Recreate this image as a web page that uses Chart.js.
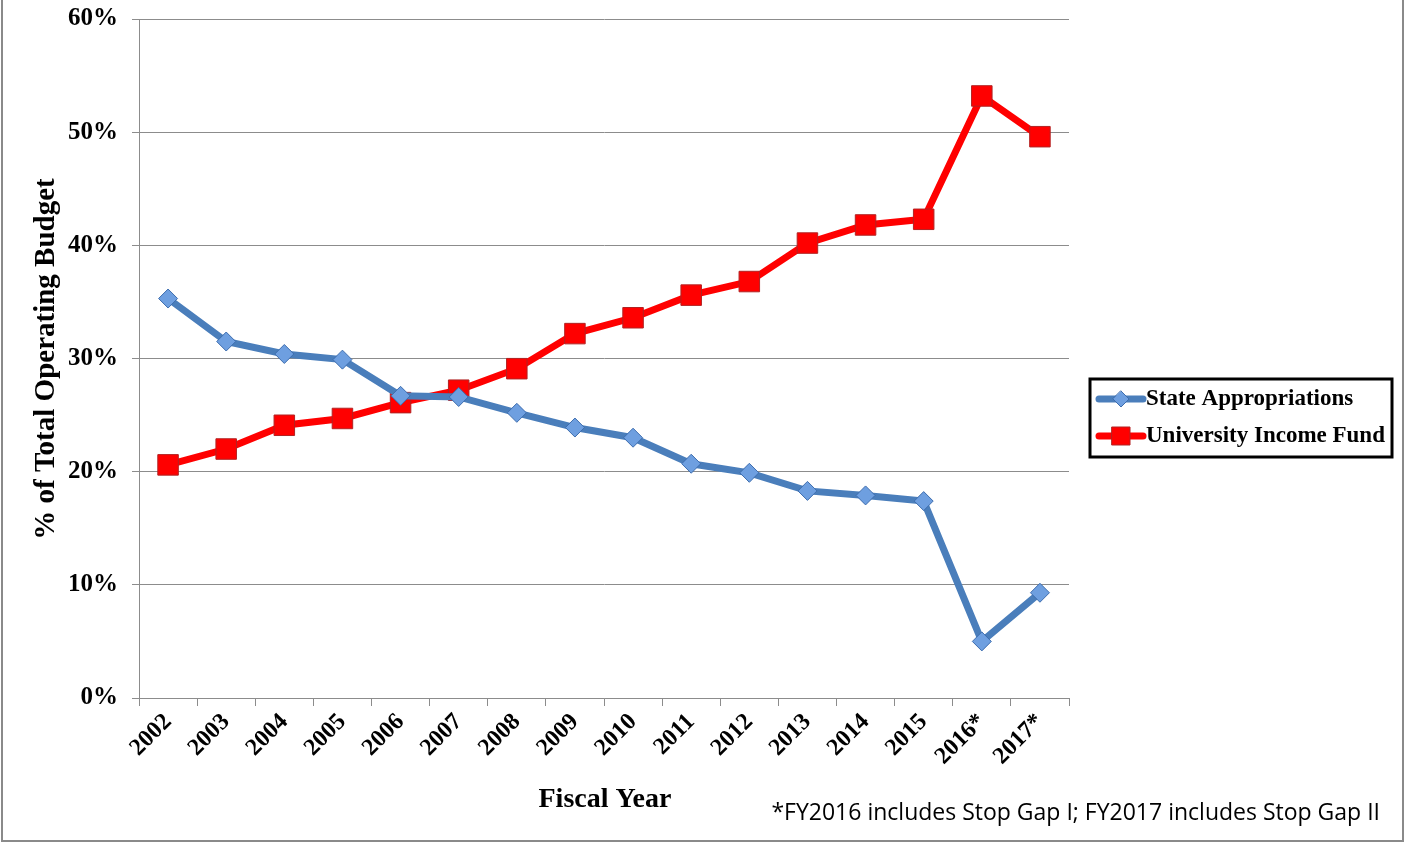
<!DOCTYPE html>
<html>
<head>
<meta charset="utf-8">
<script src="https://cdn.jsdelivr.net/npm/chart.js@4.4.1/dist/chart.umd.min.js"></script>
<style>
  html, body { margin: 0; padding: 0; background: #fff; }
  #wrap { width: 1405px; height: 842px; position: relative; }
</style>
</head>
<body>
<div id="wrap"><canvas id="chart" width="1405" height="842"></canvas></div>
<script>
// Fiscal years on the x axis
const years = ['2002', '2003', '2004', '2005', '2006', '2007', '2008', '2009',
  '2010', '2011', '2012', '2013', '2014', '2015', '2016*', '2017*'];

// % of total operating budget
const stateAppropriations = [35.3, 31.5, 30.4, 29.9, 26.7, 26.6, 25.2, 23.9,
  23.0, 20.7, 19.9, 18.3, 17.9, 17.4, 5.0, 9.3];
const universityIncomeFund = [20.6, 22.0, 24.1, 24.7, 26.1, 27.2, 29.1, 32.2,
  33.6, 35.6, 36.8, 40.2, 41.8, 42.3, 53.2, 49.6];

const yTicks = [0, 10, 20, 30, 40, 50, 60];

const seriesNames = ['State Appropriations', 'University Income Fund'];
const footnote = '*FY2016 includes Stop Gap I; FY2017 includes Stop Gap II';

const SERIF = '"Liberation Serif", "Times New Roman", serif';
const BLUE = '#4A7EBB';
const BLUE_PT = '#6E9FE0';
const BLUE_EDGE = '#3D6DAE';
const RED = '#FF0000';
const RED_EDGE = '#B22222';
const GRID = '#8C8C8C';

// Titles, footnote, legend box and frame
const decorPlugin = {
  id: 'decor',
  afterDraw(chart) {
    const ctx = chart.ctx;
    ctx.save();

    // y axis title
    ctx.translate(47, 359);
    ctx.rotate(-Math.PI / 2);
    ctx.font = 'bold 29px ' + SERIF;
    ctx.fillStyle = '#000';
    ctx.textAlign = 'center';
    ctx.textBaseline = 'middle';
    ctx.fillText('% of Total Operating Budget', 0, 0);
    ctx.setTransform(1, 0, 0, 1, 0, 0);

    // x axis title
    ctx.font = 'bold 28px ' + SERIF;
    ctx.fillText('Fiscal Year', 605, 800);

    // footnote
    ctx.font = '23px "Open Sans", "Noto Sans", sans-serif';
    ctx.textAlign = 'right';
    ctx.fillText(footnote, 1380, 813);

    // legend
    const lx = 1090, ly = 379, lw = 302, lh = 78;
    ctx.lineWidth = 3;
    ctx.strokeStyle = '#000';
    ctx.strokeRect(lx, ly, lw, lh);

    const rows = [
      { y: 399, line: BLUE, fill: BLUE_PT, edge: BLUE_EDGE, shape: 'diamond' },
      { y: 436, line: RED, fill: RED, edge: RED_EDGE, shape: 'square' }
    ];
    rows.forEach((r, i) => {
      ctx.lineWidth = 7;
      ctx.strokeStyle = r.line;
      ctx.lineCap = 'round';
      ctx.beginPath();
      ctx.moveTo(1099, r.y);
      ctx.lineTo(1143, r.y);
      ctx.stroke();
      ctx.fillStyle = r.fill;
      ctx.strokeStyle = r.edge;
      ctx.lineWidth = 1;
      ctx.beginPath();
      if (r.shape === 'diamond') {
        ctx.moveTo(1121, r.y - 8);
        ctx.lineTo(1129, r.y);
        ctx.lineTo(1121, r.y + 8);
        ctx.lineTo(1113, r.y);
        ctx.closePath();
      } else {
        ctx.rect(1112, r.y - 9, 18, 18);
      }
      ctx.fill();
      ctx.stroke();

      ctx.fillStyle = '#000';
      ctx.font = 'bold 23px ' + SERIF;
      ctx.textAlign = 'left';
      ctx.textBaseline = 'middle';
      ctx.fillText(seriesNames[i], 1146, r.y);
    });

    // outer frame
    ctx.lineWidth = 2;
    ctx.strokeStyle = '#8A8A8A';
    ctx.strokeRect(2, -2, 1401, 843);
    ctx.restore();
  }
};

new Chart(document.getElementById('chart'), {
  type: 'line',
  data: {
    labels: years,
    datasets: [
      {
        label: seriesNames[0],
        data: stateAppropriations,
        borderColor: BLUE,
        borderWidth: 7,
        pointStyle: 'rectRot',
        pointRadius: 9.5,
        pointBackgroundColor: BLUE_PT,
        pointBorderColor: BLUE_EDGE,
        pointBorderWidth: 1,
        tension: 0
      },
      {
        label: seriesNames[1],
        data: universityIncomeFund,
        borderColor: RED,
        borderWidth: 7,
        pointStyle: 'rect',
        pointRadius: 14.5,
        pointBackgroundColor: RED,
        pointBorderColor: RED_EDGE,
        pointBorderWidth: 1,
        tension: 0
      }
    ]
  },
  options: {
    responsive: false,
    animation: false,
    layout: { padding: { left: 0, right: 336, top: 19, bottom: 0 } },
    plugins: {
      legend: { display: false },
      tooltip: { enabled: false }
    },
    scales: {
      x: {
        type: 'category',
        offset: true,
        afterFit: (scale) => { scale.height = 144; },
        grid: {
          offset: true,
          drawOnChartArea: false,
          tickLength: 8,
          color: GRID
        },
        border: { display: true, color: GRID, width: 1 },
        ticks: {
          minRotation: 45,
          maxRotation: 45,
          autoSkip: false,
          padding: 2,
          color: '#000',
          font: { family: SERIF, size: 24, weight: 'bold' }
        }
      },
      y: {
        min: 0,
        max: 60,
        afterFit: (scale) => {
          scale.width = 139;
          scale.paddingTop = 0;
          scale.paddingBottom = 0;
        },
        afterBuildTicks: (scale) => { scale.ticks = yTicks.map(v => ({ value: v })); },
        grid: { color: GRID, tickLength: 7, lineWidth: 1 },
        border: { display: true, color: GRID, width: 1 },
        ticks: {
          padding: 14,
          color: '#000',
          font: { family: SERIF, size: 25, weight: 'bold' },
          callback: (v) => v + '%'
        }
      }
    }
  },
  plugins: [decorPlugin]
});
</script>
</body>
</html>
